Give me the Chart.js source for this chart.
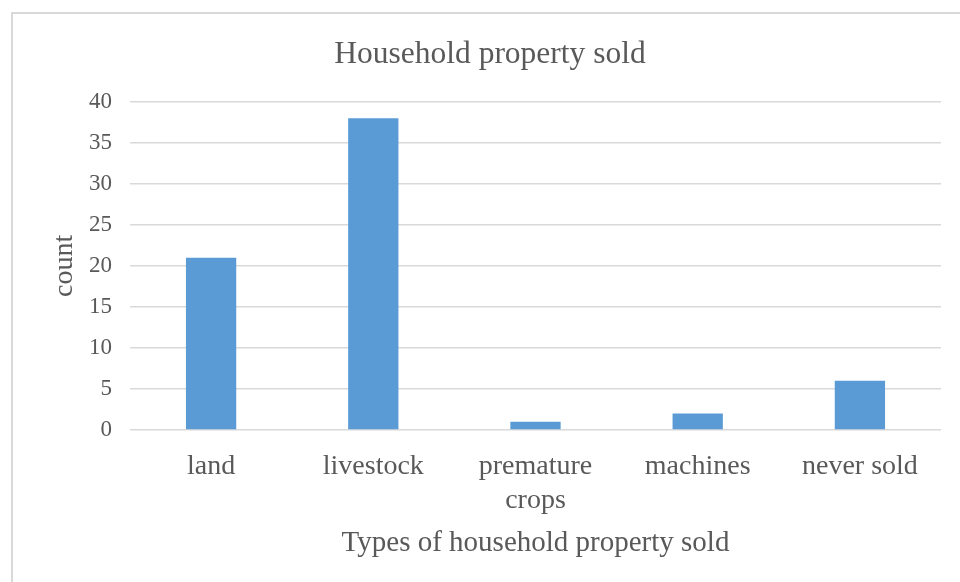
<!DOCTYPE html>
<html>
<head>
<meta charset="utf-8">
<script src="https://cdn.jsdelivr.net/npm/chart.js@4/dist/chart.umd.min.js"></script>
<style>
  html, body { margin: 0; padding: 0; background: #fff; }
  #wrap { position: relative; width: 960px; height: 582px; overflow: hidden; }
  #frame {
    position: absolute; left: 11px; top: 12px; width: 1000px; height: 620px;
    border-left: 2px solid #d9d9d9; border-top: 2px solid #d9d9d9;
    box-sizing: border-box;
  }
  canvas { position: absolute; left: 0; top: 0; }
</style>
</head>
<body>
<div id="wrap">
  <div id="frame"></div>
  <canvas id="soldChart" width="960" height="582"></canvas>
</div>
<script>
// ── 데이터 ───────────────────────────────────────────────
var categories = ["land", "livestock", ["premature", "crops"], "machines", "never sold"];
var counts     = [21, 38, 1, 2, 6];
var yMin = 0, yMax = 40, yStep = 5;

var chartTitle = "Household property sold";
var xTitle     = "Types of household property sold";
var yTitle     = "count";

var SERIF     = "'Liberation Serif', 'Times New Roman', serif";
var TEXT_CLR  = "#595959";
var GRID_CLR  = "#d9d9d9";
var BAR_CLR   = "#5b9bd5";

new Chart(document.getElementById("soldChart").getContext("2d"), {
  type: "bar",
  data: {
    labels: categories,
    datasets: [{
      label: yTitle,
      data: counts,
      backgroundColor: BAR_CLR,
      borderWidth: 0,
      categoryPercentage: 1,
      barPercentage: 0.31,
    }],
  },
  options: {
    responsive: false,
    animation: false,
    layout: { padding: { left: 39, right: 19, top: 0, bottom: 0 } },
    plugins: {
      legend: { display: false },
      tooltip: { enabled: false },
      title: {
        display: true,
        text: chartTitle,
        color: TEXT_CLR,
        font: { family: SERIF, size: 31.5, weight: "normal", lineHeight: 1.2 },
        padding: { top: 36, bottom: 28 },
      },
    },
    scales: {
      x: {
        grid: { display: false, drawTicks: false },
        border: { display: false },
        ticks: {
          color: TEXT_CLR, padding: 20, maxRotation: 0, autoSkip: false,
          font: { family: SERIF, size: 28, lineHeight: 1.2 },
        },
        title: {
          display: true, text: xTitle, color: TEXT_CLR,
          font: { family: SERIF, size: 29, lineHeight: 1.2 },
          padding: { top: 0, bottom: 21 },
        },
        afterFit: function(s) { s.height = 152; },
      },
      y: {
        min: yMin, max: yMax,
        grid: { color: GRID_CLR, lineWidth: 1.5, drawTicks: false },
        border: { display: false },
        ticks: {
          stepSize: yStep, color: TEXT_CLR, padding: 18,
          font: { family: SERIF, size: 23, lineHeight: 1.2 },
        },
        title: {
          display: true, text: yTitle, color: TEXT_CLR,
          font: { family: SERIF, size: 28, lineHeight: 1.2 },
          padding: { top: 9, bottom: 0 },
        },
        afterFit: function(s) { s.width = 91; },
      },
    },
  },
});
</script>
</body>
</html>
